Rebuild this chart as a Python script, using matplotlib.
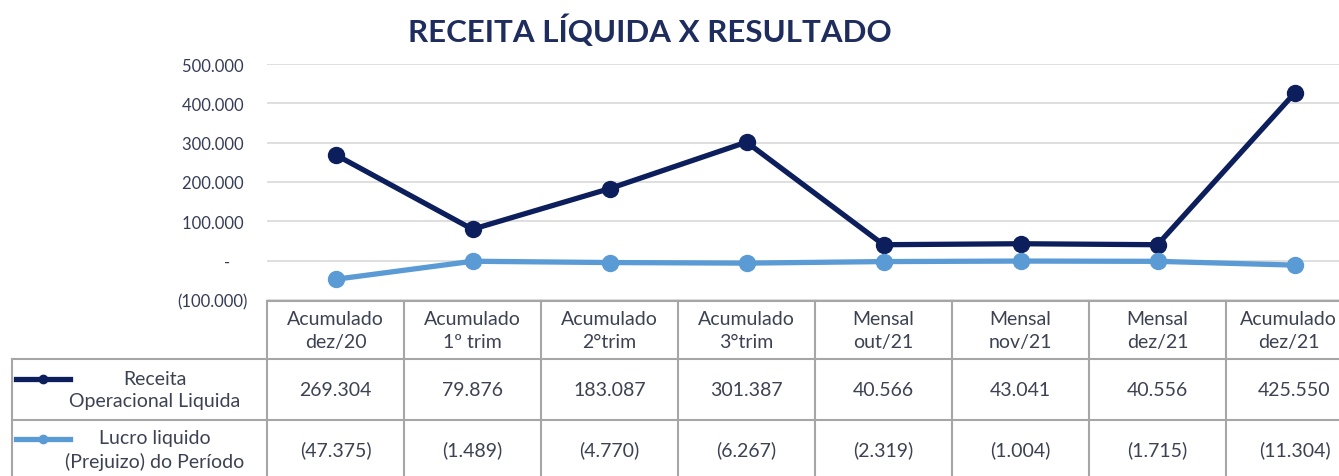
import matplotlib.pyplot as plt
import numpy as np
from matplotlib.ticker import FuncFormatter
from matplotlib.lines import Line2D

# Data
periods = ['Acumulado\ndez/20', 'Acumulado\n1º trim', 'Acumulado\n2°trim', 'Acumulado\n3°trim',
           'Mensal\nout/21', 'Mensal\nnov/21', 'Mensal\ndez/21', 'Acumulado\ndez/21']
receita = [269304, 79876, 183087, 301387, 40566, 43041, 40556, 425550]
lucro = [-47375, -1489, -4770, -6267, -2319, -1004, -1715, -11304]
series_names = ['Receita\nOperacional Liquida', 'Lucro liquido\n(Prejuizo) do Período']

dark = '#0c1f5c'
light = '#5b9bd5'
txt = '#3d4252'
grid_c = '#d9d9d9'
border_c = '#a6a6a6'

plt.rcParams['font.family'] = ['Lato', 'DejaVu Sans']

W, H = 1339, 477
fig = plt.figure(figsize=(W / 100, H / 100), dpi=100)


def fmt(v, pos=None):
    if v == 0:
        return '-    '
    s = f"{abs(v):,.0f}".replace(',', '.')
    return f"({s})" if v < 0 else s + ' '


# Plot area: columns are 137 px wide starting at x=267
x0, colw = 267, 137
n = len(periods)
ax_left = x0 / W
ax_width = n * colw / W
y_top, y_bot = 65, 301
ax = fig.add_axes([ax_left, 1 - y_bot / H, ax_width, (y_bot - y_top) / H])
x = np.arange(n)
ax.plot(x, receita, color=dark, lw=3.8, marker='o', ms=11.5, zorder=3)
ax.plot(x, lucro, color=light, lw=3.8, marker='o', ms=11.5, zorder=3)
ax.set_xlim(-0.5, n - 0.5)
ax.set_ylim(-100000, 500000)
ax.set_yticks(np.arange(-100000, 500001, 100000))
ax.yaxis.set_major_formatter(FuncFormatter(fmt))
ax.tick_params(axis='y', length=0, pad=14, labelsize=12, labelcolor='#353c56')
ax.tick_params(axis='x', length=0, labelbottom=False)
ax.grid(axis='y', color=grid_c, lw=1.2)
ax.set_axisbelow(True)
for sp in ax.spines.values():
    sp.set_visible(False)

fig.text(0.485, 0.935, 'RECEITA LÍQUIDA X RESULTADO', ha='center', va='center',
         fontsize=22.5, fontweight='bold', color='#1f2d5e')

# Data table below the plot
tab_top = 302
tab_h = H - tab_top
tax = fig.add_axes([ax_left, 0, ax_width, tab_h / H])
tax.set_xlim(-0.5, n - 0.5)
tax.set_ylim(tab_h, 0)
tax.axis('off')
rows = [0, 58, 119, 178]
left_edge = -0.5 - (x0 - 12) / colw

kw = dict(color=border_c, lw=1.5, clip_on=False)
tax.plot([-0.5, n - 0.5], [rows[0], rows[0]], **kw)
for r in rows[1:3]:
    tax.plot([left_edge, n - 0.5], [r, r], **kw)
for i in range(n + 1):
    tax.plot([i - 0.5, i - 0.5], [rows[0], rows[3]], **kw)
tax.plot([left_edge, left_edge], [rows[1], rows[3]], **kw)

tk = dict(ha='center', va='center', fontsize=14, color=txt, linespacing=1.4, clip_on=False)
for i, p in enumerate(periods):
    # last column is partly outside the figure; nudge its header so it stays visible
    xi = i - 6 / colw if i == n - 1 else i
    tax.text(xi, (rows[0] + rows[1]) / 2, p, **tk)
for r, vals in enumerate([receita, lucro]):
    yc = (rows[r + 1] + rows[r + 2]) / 2
    for i, v in enumerate(vals):
        tax.text(i, yc, fmt(v).strip(), **tk)

# Row headers with legend keys
for r, (name, c) in enumerate(zip(series_names, [dark, light])):
    yc = (rows[r + 1] + rows[r + 2]) / 2
    ky = yc - 11
    kx0 = left_edge + 4 / colw
    kx1 = left_edge + 58 / colw
    tax.add_line(Line2D([kx0, kx1], [ky, ky], color=c, lw=3.8, clip_on=False))
    tax.add_line(Line2D([(kx0 + kx1) / 2], [ky], color=c, marker='o', ms=6, clip_on=False))
    tax.text(left_edge + 143 / colw, yc, name, **tk)

fig.savefig('out.png', dpi=100)
